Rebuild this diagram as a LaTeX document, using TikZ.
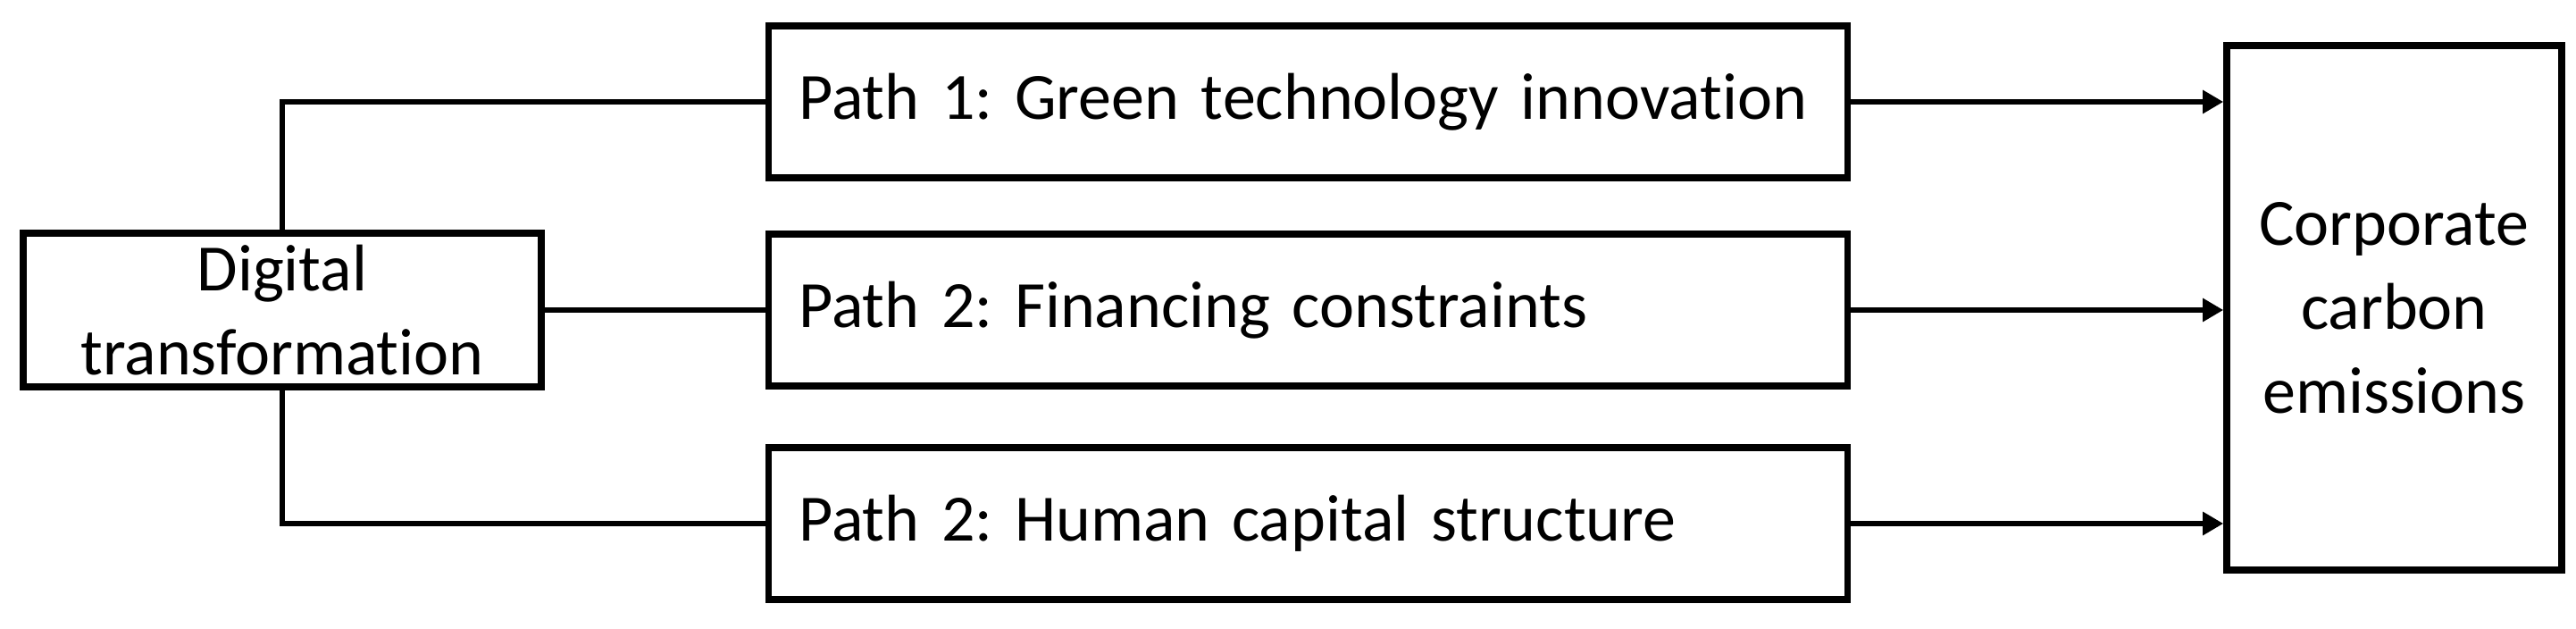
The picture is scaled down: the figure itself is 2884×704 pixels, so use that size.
\documentclass[tikz,border=0pt]{standalone}
\usepackage{fontspec}
\setmainfont{Carlito}[Ligatures={NoCommon}]
\usetikzlibrary{arrows.meta}
\begin{document}
\frenchspacing
\begin{tikzpicture}[x=0.25pt,y=-0.25pt,
  box/.style={draw=black,line width=1.9pt,inner sep=0pt,font=\fontsize{18.5pt}{23.5pt}\selectfont},
  pathbox/.style={box,inner xsep=8.5pt,text width=285pt,align=left,minimum height=42.5pt},
  conn/.style={line width=1.6pt},
  arr/.style={line width=1.6pt,-{Triangle[length=5.75pt,width=6.25pt]}}]
\useasboundingbox (0,0) rectangle (2884,704);
\node[box,minimum width=145pt,minimum height=43pt,align=center] (dig) at (316,347) {Digital\\transformation};
\node[pathbox] (p1) at (1464.5,114) {\mbox{Path 1: Green technology innovation}};
\node[pathbox] (p2) at (1464.5,347) {\mbox{Path 2: Financing constraints}};
\node[pathbox] (p3) at (1464.5,586) {\mbox{Path 2: Human capital structure}};
\node[box,minimum width=93.75pt,minimum height=146.75pt,align=center] (corp) at (2680.5,344.5) {Corporate\\carbon\\emissions};
\draw[conn] (dig.north) |- (p1.west);
\draw[conn] (dig.east) -- (p2.west);
\draw[conn] (dig.south) |- (p3.west);
\draw[arr] (p1.east) -- (corp.west |- p1.east);
\draw[arr] (p2.east) -- (corp.west |- p2.east);
\draw[arr] (p3.east) -- (corp.west |- p3.east);
\end{tikzpicture}
\end{document}
